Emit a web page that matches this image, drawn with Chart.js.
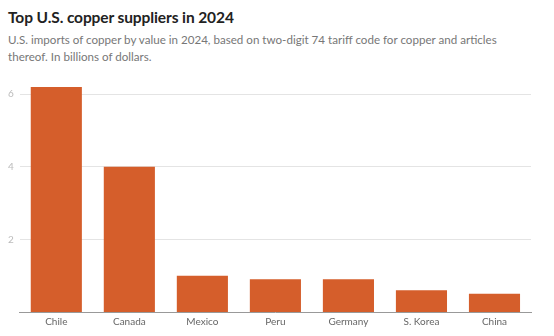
<!DOCTYPE html>
<html>
<head>
<meta charset="utf-8">
<script src="https://cdn.jsdelivr.net/npm/chart.js@4/dist/chart.umd.min.js"></script>
<style>
  html, body { margin: 0; padding: 0; background: #fff; }
  body { width: 554px; height: 336px; position: relative; overflow: hidden; font-family: Lato, "Open Sans", sans-serif; }
  #title { position: absolute; left: 8px; top: 8px; font-size: 15.5px; font-weight: 700; color: #222; letter-spacing: -0.1px; }
  #sub { position: absolute; left: 8px; top: 31px; width: 530px; font-size: 11.6px; line-height: 17px; color: #777; }
  #wrap { position: absolute; left: 0; top: 64px; width: 554px; height: 272px; }
</style>
</head>
<body>
<div id="title">Top U.S. copper suppliers in 2024</div>
<div id="sub">U.S. imports of copper by value in 2024, based on two-digit 74 tariff code for copper and articles<br>thereof. In billions of dollars.</div>
<div id="wrap"><canvas id="c"></canvas></div>
<script>
const countries = ["Chile", "Canada", "Mexico", "Peru", "Germany", "S. Korea", "China"];
const importsBn = [6.2, 4.0, 1.0, 0.9, 0.9, 0.6, 0.5];
const yTicks = [2, 4, 6];

new Chart(document.getElementById("c"), {
  type: "bar",
  data: {
    labels: countries,
    datasets: [{
      data: importsBn,
      backgroundColor: "#d55e2b",
      borderWidth: 0,
      barPercentage: 0.7,
      categoryPercentage: 1.0
    }]
  },
  options: {
    responsive: true,
    maintainAspectRatio: false,
    animation: false,
    layout: { padding: { left: 2, right: 23, top: 0, bottom: 4 } },
    plugins: { legend: { display: false }, tooltip: { enabled: false } },
    scales: {
      x: {
        grid: { display: false, drawTicks: false },
        border: { display: true, color: "#999", width: 1 },
        ticks: { color: "#666", font: { family: "Lato", size: 10 }, padding: 4 }
      },
      y: {
        min: 0,
        max: 6.5,
        afterBuildTicks: (scale) => { scale.ticks = yTicks.map(v => ({ value: v })); },
        grid: { color: "#e4e4e4", drawTicks: false },
        border: { display: false },
        ticks: { color: "#bbb", font: { family: "Lato", size: 10 }, padding: 6 }
      }
    }
  }
});
</script>
</body>
</html>
